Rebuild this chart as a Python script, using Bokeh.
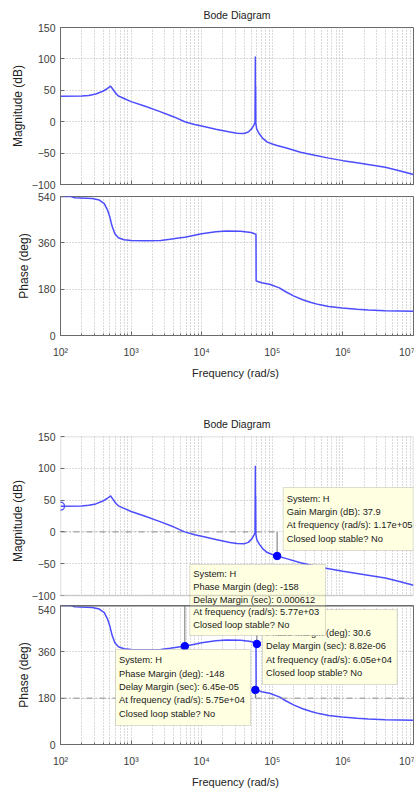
import numpy as np
from bokeh.plotting import figure
from bokeh.layouts import column
from bokeh.models import FixedTicker, Span, BoxAnnotation, Label, Range1d
from bokeh.embed import file_html
from bokeh.resources import INLINE

# ---------------- data ----------------
mag_logw = [2.0, 2.3, 2.4, 2.5, 2.6, 2.66, 2.71, 2.74, 2.78, 2.82, 2.9, 3.0,
            3.2, 3.4, 3.6, 3.76, 3.9, 4.0, 4.2, 4.4, 4.5, 4.6, 4.66, 4.71,
            4.74, 4.755, 4.760, 4.762, 4.764, 4.767, 4.78, 4.82, 4.87, 4.93,
            5.0, 5.068, 5.2, 5.4, 5.6, 5.8, 6.0, 6.2, 6.4, 6.6, 6.8, 7.0]
mag_db = [40.5, 40.8, 41.8, 44.0, 48.5, 52.5, 56.5, 52.0, 45.5, 41.0, 37.0, 32.0,
          24.5, 16.5, 8.0, 0.0, -4.5, -7.0, -12.0, -16.5, -18.3, -18.8, -16.5, -11.0,
          -5.0, -1.0, 104.0, -1.0, 57.0, -3.0, -12.0, -20.0, -27.0, -32.5,
          -35.5, -37.9, -42.0, -48.5, -53.5, -58.0, -62.0, -65.5, -69.0, -72.5, -78.0, -84.0]

phase_logw = [2.0, 2.15, 2.2, 2.45, 2.55, 2.62, 2.67, 2.70, 2.73, 2.77, 2.82, 2.9,
              3.0, 3.2, 3.42, 3.55, 3.7, 3.761, 4.0, 4.2, 4.35, 4.55, 4.7, 4.769,
              4.771, 4.85, 4.96, 5.1, 5.19, 5.3, 5.43, 5.55, 5.66, 5.8, 5.99, 6.2,
              6.36, 6.6, 7.0]
phase_deg = [540, 540, 535, 532, 526, 512, 485, 459, 425, 395, 380, 372,
             369, 368, 369, 374, 380, 382, 395, 403, 406, 405, 400, 393,
             212, 205, 199, 185, 170, 154, 139, 128, 120, 113, 107, 102,
             99, 96, 94]

decades = [100, 1000, 10000, 100000, 1000000, 10000000]
x_tick_labels = ["10\u00b2", "10\u00b3", "10\u2074", "10\u2075", "10\u2076", "10\u2077"]
minor_mult = [2, 3, 4, 5, 6, 7, 8, 9]
mag_ticks = [-100, -50, 0, 50, 100, 150]
phase_ticks = [0, 180, 360, 540]

start_freq, start_db = 100, 40.5
gm_freq, gm_db = 1.17e5, -37.9
pm_freqs = [5.77e3, 6.05e4, 5.75e4]
pm_phase = [382.0, 390.6, 212.0]
pm_ref = [540, 540, 180]

tip_gm = ["System: H", "Gain Margin (dB): 37.9",
          "At frequency (rad/s): 1.17e+05", "Closed loop stable? No"]
tip_pm1 = ["System: H", "Phase Margin (deg): -158", "Delay Margin (sec): 0.000612",
           "At frequency (rad/s): 5.77e+03", "Closed loop stable? No"]
tip_pm2 = ["System: H", "Phase Margin (deg): 30.6", "Delay Margin (sec): 8.82e-06",
           "At frequency (rad/s): 6.05e+04", "Closed loop stable? No"]
tip_pm3 = ["System: H", "Phase Margin (deg): -148", "Delay Margin (sec): 6.45e-05",
           "At frequency (rad/s): 5.75e+04", "Closed loop stable? No"]

# ---------------- styling ----------------
FONT = "Liberation Sans"
BLUE = "#4d4dff"
GRID = "#b4b4b4"
FRAME = "#6a6a6a"
TXT = "#3c3c3c"
TIPFILL = "#ffffe1"
TIPLINE = "#8a8a8a"

mag_w = 10 ** np.array(mag_logw)
ph_w = 10 ** np.array(phase_logw)
minor_ticks = [m * d for d in decades[:-1] for m in minor_mult]
overrides = {d: lab for d, lab in zip(decades, x_tick_labels)}


def make_fig(height, top, bottom, left, yr, yticks, ylabel, title=None,
             xlabel=None, x_axis=True):
    p = figure(width=414, height=height, x_axis_type="log",
               x_range=Range1d(1e2, 1e7), y_range=Range1d(*yr),
               output_backend="svg", toolbar_location=None,
               x_axis_location="below" if x_axis else None,
               min_border_top=top, min_border_bottom=bottom,
               min_border_left=left, min_border_right=1)
    if title:
        p.title.text = title
        p.title.align = "center"
        p.title.text_font = FONT
        p.title.text_font_size = "10.5px"
        p.title.text_font_style = "normal"
        p.title.text_color = "#222222"
        p.title.standoff = 13
    p.outline_line_color = FRAME
    p.outline_line_width = 1
    axes = [p.yaxis[0]] + ([p.xaxis[0]] if x_axis else [])
    for ax in axes:
        ax.axis_line_color = FRAME
        ax.major_tick_line_color = FRAME
        ax.minor_tick_line_color = FRAME
        ax.major_tick_out = 0
        ax.minor_tick_out = 0
        ax.major_tick_in = 4
        ax.minor_tick_in = 2
        ax.major_label_text_font = FONT
        ax.major_label_text_font_size = "10.5px"
        ax.major_label_text_color = TXT
        ax.axis_label_text_font = FONT
        ax.axis_label_text_font_style = "normal"
        ax.axis_label_text_color = "#222222"
    ticker = FixedTicker(ticks=decades, minor_ticks=minor_ticks)
    if x_axis:
        xa = p.xaxis[0]
        xa.ticker = ticker
        xa.major_label_overrides = overrides
        if xlabel:
            xa.major_label_standoff = 10
            xa.axis_label = xlabel
            xa.axis_label_text_font_size = "11px"
            xa.axis_label_standoff = 6
        else:
            xa.major_label_text_font_size = "1px"
            xa.major_label_text_color = None
            xa.major_label_standoff = 0
    ya = p.yaxis[0]
    ya.ticker = FixedTicker(ticks=yticks)
    ya.minor_tick_line_color = None
    ya.major_label_standoff = 5
    ya.axis_label = ylabel
    ya.axis_label_text_font_size = "12px"
    ya.axis_label_standoff = 4
    p.xgrid.ticker = ticker
    p.xgrid.grid_line_color = GRID
    p.xgrid.grid_line_dash = "1 2"
    p.xgrid.minor_grid_line_color = GRID
    p.xgrid.minor_grid_line_dash = "1 2"
    p.ygrid.grid_line_color = GRID
    p.ygrid.grid_line_dash = "1 2"
    return p


def tip(p, fl, fb, ft, left, top, right, bottom, lines, ys):
    """Data-tip box placed in page pixels (converted to frame-relative screen
    units). Only the text lines that fall inside this frame (ft..fb) are added."""
    p.add_layout(BoxAnnotation(left=left - fl, right=right - fl,
                               top=fb - top, bottom=fb - bottom,
                               left_units="screen", right_units="screen",
                               top_units="screen", bottom_units="screen",
                               fill_color=TIPFILL, fill_alpha=1.0,
                               line_color=TIPLINE, line_width=1))
    for t, y in zip(lines, ys):
        if y - 5.5 < ft or y + 5.5 > fb:
            continue
        p.add_layout(Label(x=left + 3.5 - fl, y=fb - y,
                           x_units="screen", y_units="screen", text=t,
                           text_font=FONT, text_font_size="9.3px",
                           text_color="#202020", text_baseline="middle",
                           text_align="left"))


def rows(first, n, step=13.5):
    return [first + i * step for i in range(n)]


# ---------------- first Bode diagram ----------------
mag1 = make_fig(190, 26, 6, 55, (-100, 150), mag_ticks, "Magnitude (dB)",
                title="Bode Diagram")
mag1.line(mag_w, mag_db, color=BLUE, line_width=1.5)

ph1 = make_fig(195, 6, 50, 55, (0, 540), phase_ticks, "Phase (deg)",
               xlabel="Frequency  (rad/s)")
ph1.line(ph_w, phase_deg, color=BLUE, line_width=1.5)

# ---------------- second Bode diagram (with margins) ----------------
# the magnitude frame runs 10 px below -100 dB so that the data tip that
# straddles both axes can be drawn continuously; that strip is blanked.
GAP_DB = 10 * 250 / 159
mag2 = make_fig(220, 51, 0, 60, (-100 - GAP_DB, 150), mag_ticks, "Magnitude (dB)",
                title="Bode Diagram", x_axis=False)
mag2.outline_line_color = None
mag2.yaxis[0].axis_line_color = None
mag2.line([1e2, gm_freq], [0, 0], color="#8c8c8c", line_width=1, line_dash="6 3 1 3")
mag2.line([gm_freq, gm_freq], [0, gm_db], color="#707070", line_width=1)
mag2.line(mag_w, mag_db, color=BLUE, line_width=1.5)
mag2.scatter([start_freq], [start_db], size=8, marker="circle", fill_color=None,
             line_color=BLUE, line_width=1.3)
mag2.scatter([gm_freq], [gm_db], size=7.5, marker="circle", fill_color="#0000ff",
             line_color="#0000ff")
mag2.add_layout(BoxAnnotation(top=-100, fill_color="white", fill_alpha=1.0,
                              line_color=None))

ph2 = make_fig(185, 0, 45, 60, (0, 540), phase_ticks, "Phase (deg)",
               xlabel="Frequency  (rad/s)")
ph2.add_layout(Span(location=180, dimension="width", line_color="#8c8c8c",
                    line_width=1, line_dash="6 3 1 3"))
for f, ph, ref in zip(pm_freqs, pm_phase, pm_ref):
    ph2.line([f, f], [ref, ph], color="#707070", line_width=1)
ph2.line(ph_w, phase_deg, color=BLUE, line_width=1.5)
ph2.scatter(pm_freqs, pm_phase, size=7.5, marker="circle", fill_color="#0000ff",
            line_color="#0000ff")

# data tips (page pixels); mag2 frame: left 60, top 436, bottom 605;
# ph2 frame: left 60, top 605, bottom 745
pm1_rows = rows(573, 5, 13)
tip(mag2, 60, 605, 436, 282.7, 487, 460, 550, tip_gm, rows(498.3, 4, 13.3))
tip(mag2, 60, 605, 436, 189.3, 564, 325, 636, tip_pm1, pm1_rows)
tip(ph2, 60, 745, 605, 262, 610, 396.7, 685, tip_pm2, rows(619.5, 5))
tip(ph2, 60, 745, 605, 189.3, 564, 325, 636, tip_pm1, pm1_rows)
tip(ph2, 60, 745, 605, 115, 650, 250, 726, tip_pm3, rows(660.7, 5, 13.4))

# axes boxes drawn over the tips, as in the original
mag2.add_layout(BoxAnnotation(left=1e2, right=1e7, top=150, bottom=-100,
                              fill_alpha=0, line_color=FRAME, line_width=1.5))
ph2.add_layout(Span(location=540, dimension="width", line_color=FRAME, line_width=2))

layout = column(mag1, ph1, mag2, ph2, spacing=0)
open("out.html", "w").write(file_html(layout, INLINE))
